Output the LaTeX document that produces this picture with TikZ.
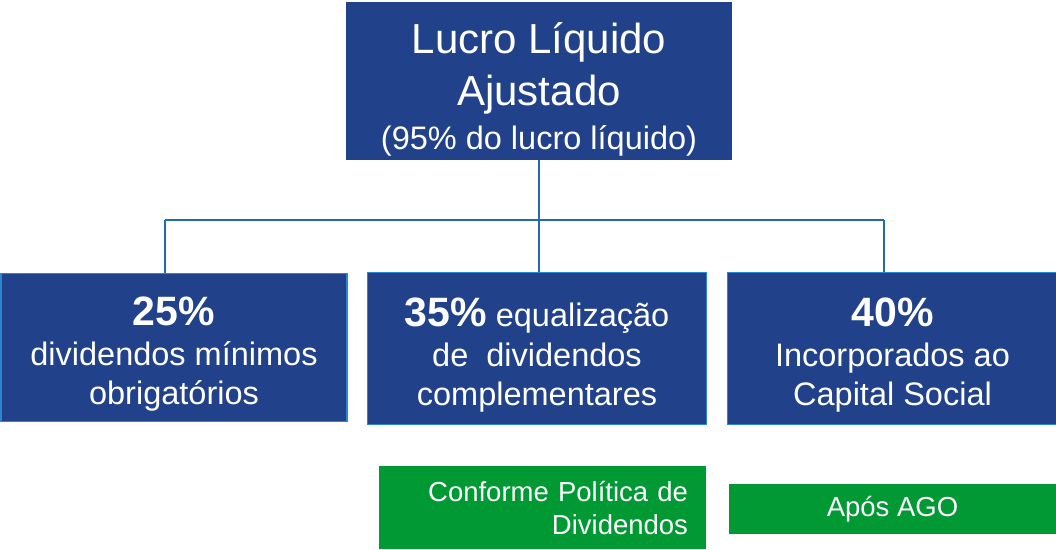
\documentclass[tikz,border=0pt]{standalone}
\usepackage{fontspec}
\setmainfont{Liberation Sans}
\definecolor{boxblue}{HTML}{21428A}
\definecolor{rimblue}{HTML}{2A86CF}
\definecolor{lineblue}{HTML}{1F6DB0}
\definecolor{boxgreen}{HTML}{009933}
\newcommand{\pct}[1]{\rule{0pt}{42pt}{\fontsize{41}{39.5}\selectfont\bfseries #1}}
\begin{document}
\begin{tikzpicture}[x=1pt,y=-1pt,
  share/.style={draw=rimblue,line width=1.5pt,fill=boxblue,text=white,align=center,
    inner sep=0pt,font=\fontsize{32.5}{39.5}\selectfont},
  note/.style={fill=boxgreen,text=white,inner sep=0pt,font=\fontsize{27.5}{33}\selectfont},
  link/.style={draw=lineblue,line width=1.5pt}]
\useasboundingbox (0,0) rectangle (1056,549);
\node[fill=boxblue,text=white,align=center,minimum width=386pt,minimum height=158pt,
  inner sep=0pt,font=\fontsize{42}{52}\selectfont] (lucro) at (539,81)
  {\rule{0pt}{48pt}Lucro Líquido\\Ajustado\\[-8pt]{\fontsize{32.5}{40}\selectfont(95\% do lucro líquido)}};

\node[share,minimum width=346pt,minimum height=148pt] (minimo) at (174,347.5)
  {\pct{25\%}\\dividendos mínimos\\obrigatórios};
\node[share,minimum width=339pt,minimum height=152pt] (equal) at (537,348.5)
  {\pct{35\%} equalização\\de~ dividendos\\complementares};
\node[share,minimum width=330pt,minimum height=152pt] (capital) at (892.5,348.5)
  {\pct{40\%}\\Incorporados ao\\Capital Social};

\node[note,text width=291pt,align=right,inner xsep=18pt,minimum height=83pt] (politica) at (542.5,507.5)
  {Conforme Política de\\Dividendos};
\node[note,minimum width=327pt,minimum height=50pt] (ago) at (892.5,509) {Após AGO};

% ligacoes
\coordinate (jl) at (165,220);
\coordinate (jr) at (884,220);
\draw[link] (lucro.south) -- (lucro.south |- equal.north);
\draw[link] (jl) -- (jr);
\draw[link] (jl) -- (jl |- minimo.north);
\draw[link] (jr) -- (jr |- capital.north);
\end{tikzpicture}
\end{document}
